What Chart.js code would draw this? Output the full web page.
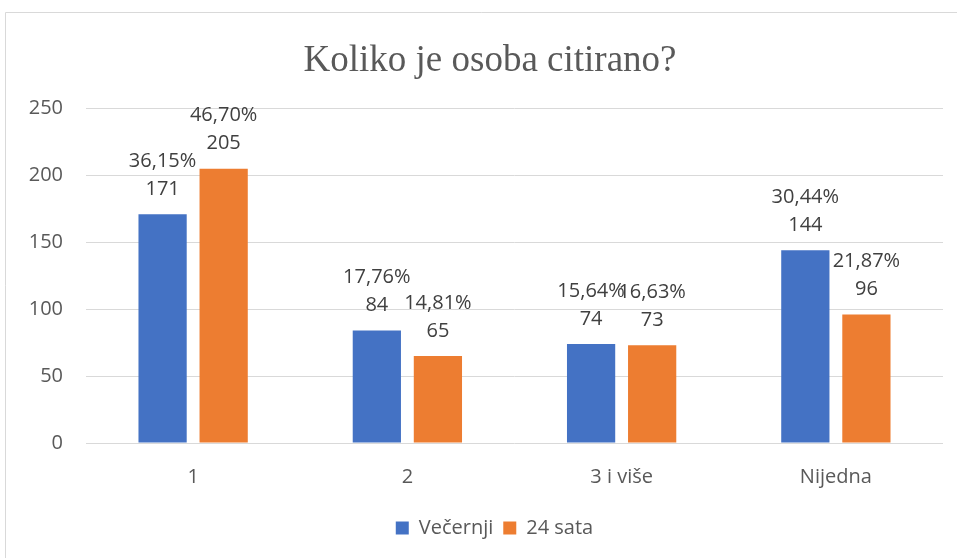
<!DOCTYPE html>
<html>
<head>
<meta charset="utf-8">
<script src="https://cdn.jsdelivr.net/npm/chart.js@4.4.1/dist/chart.umd.min.js"></script>
<style>
    html, body { margin: 0; padding: 0; background: #fff; }
    #wrap { width: 957px; height: 558px; position: relative; }
</style>
</head>
<body>
<div id="wrap"><canvas id="chart" width="957" height="558"></canvas></div>
<script>
    "use strict";

    // Data
    var categories = ["1", "2", "3 i više", "Nijedna"];
    var vecernji = [171, 84, 74, 144];
    var sata24 = [205, 65, 73, 96];
    var vecernjiPct = ["36,15%", "17,76%", "15,64%", "30,44%"];
    var sata24Pct = ["46,70%", "14,81%", "16,63%", "21,87%"];
    var yTicks = [0, 50, 100, 150, 200, 250];

    var labelFont = "'Open Sans', sans-serif";

    // Frame (outer chart border, cropped at right/bottom)
    var framePlugin = {
        id: "frame",
        beforeDraw: function (chart) {
            var c = chart.ctx;
            c.save();
            c.fillStyle = "#ffffff";
            c.fillRect(0, 0, chart.width, chart.height);
            c.strokeStyle = "#d9d9d9";
            c.lineWidth = 1;
            c.beginPath();
            c.moveTo(5.5, chart.height);
            c.lineTo(5.5, 12.5);
            c.lineTo(chart.width, 12.5);
            c.stroke();
            c.restore();
        }
    };

    // Title and legend sit a bit right of the canvas centre in the original
    var shiftPlugin = {
        id: "shiftBlocks",
        afterLayout: function (chart) {
            if (chart.titleBlock) chart.titleBlock.left += 37;
            if (chart.legend) chart.legend.left += 46;
        }
    };

    // Data labels: percentage over value
    var labelPlugin = {
        id: "barLabels",
        afterDatasetsDraw: function (chart) {
            var c = chart.ctx;
            var pcts = [vecernjiPct, sata24Pct];
            c.save();
            c.font = "20px " + labelFont;
            c.fillStyle = "#404040";
            c.textAlign = "center";
            c.textBaseline = "middle";
            chart.data.datasets.forEach(function (ds, i) {
                chart.getDatasetMeta(i).data.forEach(function (bar, j) {
                    c.fillText(String(ds.data[j]), bar.x, bar.y - 25);
                    c.fillText(pcts[i][j], bar.x, bar.y - 53);
                });
            });
            c.restore();
        }
    };

    var ctx = document.getElementById("chart").getContext("2d");
    var myChart = new Chart(ctx, {
        type: "bar",
        data: {
            labels: categories,
            datasets: [{
                    label: "Večernji",
                    data: vecernji,
                    backgroundColor: "#4472C4",
                    categoryPercentage: 0.57,
                    barPercentage: 0.79
                },
                {
                    label: "24 sata",
                    data: sata24,
                    backgroundColor: "#ED7D31",
                    categoryPercentage: 0.57,
                    barPercentage: 0.79
                }
            ]
        },
        options: {
            responsive: false,
            animation: false,
            layout: {
                padding: { left: 0, right: 14, top: 0, bottom: 10 }
            },
            plugins: {
                title: {
                    display: true,
                    text: "Koliko je osoba citirano?",
                    color: "#595959",
                    font: { family: "'Liberation Serif', serif", size: 37, weight: "normal" },
                    padding: { top: 39, bottom: 25 }
                },
                legend: {
                    position: "bottom",
                    labels: {
                        color: "#595959",
                        font: { family: labelFont, size: 20 },
                        boxWidth: 13,
                        boxHeight: 13,
                        padding: 10
                    }
                },
                tooltip: { enabled: false }
            },
            scales: {
                x: {
                    afterFit: function (axis) {
                        axis.height = axis.height - 3;
                    },
                    grid: { display: false, drawTicks: false },
                    border: { display: false },
                    ticks: {
                        color: "#595959",
                        font: { family: labelFont, size: 20 },
                        padding: 22
                    }
                },
                y: {
                    min: 0,
                    max: 250,
                    afterBuildTicks: function (axis) {
                        axis.ticks = yTicks.map(function (v) { return { value: v }; });
                    },
                    afterFit: function (axis) {
                        axis.width = 86;
                    },
                    grid: { color: "#d9d9d9", lineWidth: 1, drawTicks: false },
                    border: { display: false },
                    ticks: {
                        color: "#595959",
                        font: { family: labelFont, size: 20 },
                        padding: 23
                    }
                }
            }
        },
        plugins: [framePlugin, shiftPlugin, labelPlugin]
    });
</script>
</body>
</html>
